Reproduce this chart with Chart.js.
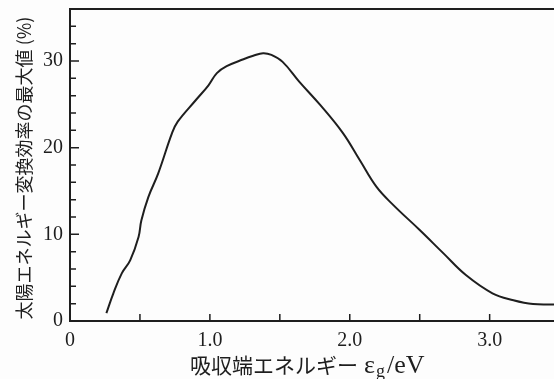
<!DOCTYPE html>
<html>
<head>
<meta charset="utf-8">
<script src="https://cdn.jsdelivr.net/npm/chart.js"></script>
<style>
  html, body { margin: 0; padding: 0; background: #fdfdfd; }
  #wrap { width: 554px; height: 379px; overflow: hidden; }
</style>
</head>
<body>
<div id="wrap"><canvas id="chart" width="554" height="379"></canvas></div>
<script>
// absorption edge energy (eV) vs max conversion efficiency (%)
const gapEnergy = [0.26, 0.31, 0.37, 0.43, 0.49, 0.51, 0.56, 0.63, 0.73, 0.77, 0.9, 0.99, 1.05, 1.12, 1.24, 1.31, 1.38, 1.44, 1.52, 1.64, 1.79, 1.95, 2.07, 2.19, 2.31, 2.5, 2.67, 2.83, 3.02, 3.17, 3.31, 3.46];
const efficiency = [0.9, 3.2, 5.5, 7.0, 9.7, 11.6, 14.3, 17.0, 21.7, 23.0, 25.5, 27.2, 28.6, 29.4, 30.2, 30.6, 30.9, 30.7, 29.9, 27.6, 24.9, 21.7, 18.6, 15.5, 13.4, 10.5, 7.8, 5.3, 3.2, 2.4, 1.95, 1.9];

const xTicks = [0, 0.5, 1.0, 1.5, 2.0, 2.5, 3.0];
const xTickLabels = ['0', '', '1.0', '', '2.0', '', '3.0'];
const yTicks = [0, 2, 4, 6, 8, 10, 12, 14, 16, 18, 20, 22, 24, 26, 28, 30, 32, 34, 36];
const yLabeled = [0, 10, 20, 30];

const yTitle = '太陽エネルギー変換効率の最大値 (%)';
const xTitle = '吸収端エネルギー';

const ink = '#1e1e1e';
const serif = '"Liberation Serif", "DejaVu Serif", serif';
const cjk = '"Noto Sans CJK JP", sans-serif';

const points = gapEnergy.map((x, i) => ({ x: x, y: efficiency[i] }));

// inner ticks, top frame line and axis titles
const decor = {
  id: 'decor',
  afterDraw(chart) {
    const ctx = chart.ctx;
    const area = chart.chartArea;
    const xs = chart.scales.x, ys = chart.scales.y;
    ctx.save();
    ctx.strokeStyle = ink;
    ctx.lineWidth = 1.5;
    ctx.beginPath();
    xs.ticks.forEach(t => {
      const px = xs.getPixelForValue(t.value);
      ctx.moveTo(px, area.bottom);
      ctx.lineTo(px, area.bottom - 7);
    });
    ys.ticks.forEach(t => {
      const py = ys.getPixelForValue(t.value);
      const len = yLabeled.includes(t.value) ? 9 : 6;
      ctx.moveTo(area.left, py);
      ctx.lineTo(area.left + len, py);
    });
    ctx.stroke();

    ctx.lineWidth = 2;
    ctx.beginPath();
    ctx.moveTo(area.left - 1, area.top);
    ctx.lineTo(area.right, area.top);
    ctx.stroke();

    ctx.fillStyle = ink;
    // y title
    ctx.save();
    ctx.translate(24, (area.top + area.bottom) / 2 + 3);
    ctx.rotate(-Math.PI / 2);
    ctx.font = '18px ' + cjk;
    ctx.textAlign = 'center';
    ctx.textBaseline = 'middle';
    ctx.fillText(yTitle, 0, 0);
    ctx.restore();

    // x title with subscript
    const base = 373;
    let x = area.left + 120;
    ctx.textAlign = 'left';
    ctx.textBaseline = 'alphabetic';
    ctx.font = '21px ' + cjk;
    ctx.fillText(xTitle, x, base);
    x += ctx.measureText(xTitle).width + 6;
    ctx.font = '26px ' + serif;
    ctx.fillText('ε', x, base);
    x += ctx.measureText('ε').width + 1;
    ctx.font = '18px ' + serif;
    ctx.fillText('g', x, base + 4);
    x += ctx.measureText('g').width + 2;
    ctx.font = '26px ' + serif;
    ctx.fillText('/eV', x, base);
    ctx.restore();
  }
};

new Chart(document.getElementById('chart'), {
  type: 'line',
  data: {
    datasets: [{
      data: points,
      borderColor: ink,
      borderWidth: 2,
      pointRadius: 0,
      tension: 0.4,
      fill: false
    }]
  },
  options: {
    responsive: false,
    animation: false,
    layout: { padding: { top: 9, right: 0, left: 0, bottom: 0 } },
    plugins: { legend: { display: false }, tooltip: { enabled: false } },
    scales: {
      x: {
        type: 'linear',
        min: 0,
        max: 3.46,
        afterBuildTicks: s => { s.ticks = xTicks.map(v => ({ value: v })); },
        afterFit: s => { s.height = 58; s.paddingLeft = 0; s.paddingRight = 0; },
        grid: { display: false, drawTicks: false },
        border: { display: true, color: ink, width: 2 },
        ticks: {
          autoSkip: false,
          maxRotation: 0,
          padding: 8,
          color: ink,
          font: { family: serif, size: 20 },
          callback: (v) => xTickLabels[xTicks.indexOf(v)] ?? ''
        }
      },
      y: {
        type: 'linear',
        min: 0,
        max: 36,
        afterBuildTicks: s => { s.ticks = yTicks.map(v => ({ value: v })); },
        afterFit: s => { s.width = 70; s.paddingTop = 0; s.paddingBottom = 0; },
        grid: { display: false, drawTicks: false },
        border: { display: true, color: ink, width: 2 },
        ticks: {
          autoSkip: false,
          padding: 7,
          color: ink,
          font: { family: serif, size: 20 },
          callback: (v) => yLabeled.includes(v) ? String(v) : ''
        }
      }
    }
  },
  plugins: [decor]
});
</script>
</body>
</html>
